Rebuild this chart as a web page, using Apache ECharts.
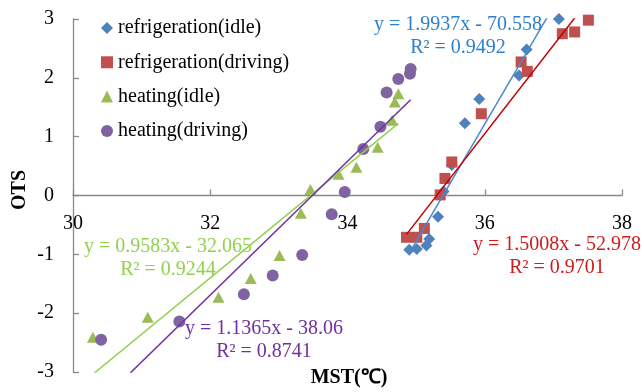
<!DOCTYPE html>
<html>
<head>
<meta charset="utf-8">
<script src="https://cdn.jsdelivr.net/npm/echarts@6/dist/echarts.min.js"></script>
<style>
  html, body { margin: 0; padding: 0; background: #fff; }
  #chart { width: 644px; height: 392px; }
</style>
</head>
<body>
<div id="chart"></div>
<script>
// Series names
const seriesNames = ['refrigeration(idle)', 'refrigeration(driving)', 'heating(idle)', 'heating(driving)'];

// MST (x) and OTS (y) observations for each condition
const refIdleMST = [34.90, 35.01, 35.15, 35.19, 35.32, 35.40, 35.52, 35.71, 35.92, 36.50, 36.61, 37.08];
const refIdleOTS = [-0.92, -0.91, -0.85, -0.74, -0.36, 0.07, 0.52, 1.23, 1.64, 2.04, 2.48, 3.00];

const refDrivMST = [34.86, 35.01, 35.12, 35.35, 35.42, 35.52, 35.95, 36.53, 36.62, 37.13, 37.31, 37.51];
const refDrivOTS = [-0.71, -0.71, -0.56, 0.01, 0.29, 0.57, 1.39, 2.27, 2.11, 2.75, 2.78, 2.98];

const heatIdleMST = [30.29, 31.09, 32.12, 32.59, 33.01, 33.32, 33.46, 33.87, 34.13, 34.44, 34.65, 34.69, 34.74];
const heatIdleOTS = [-2.41, -2.07, -1.73, -1.41, -1.02, -0.30, 0.10, 0.36, 0.48, 0.82, 1.28, 1.59, 1.73];

const heatDrivMST = [30.41, 31.55, 32.49, 32.91, 33.34, 33.77, 33.96, 34.23, 34.48, 34.57, 34.74, 34.91, 34.92];
const heatDrivOTS = [-2.45, -2.14, -1.68, -1.36, -1.01, -0.32, 0.06, 0.79, 1.17, 1.75, 1.98, 2.07, 2.15];

// Linear trend lines: y = slope * x + intercept
const slopes = [1.9937, 1.5008, 0.9583, 1.1365];
const intercepts = [-70.558, -52.978, -32.065, -38.06];
const rSquared = [0.9492, 0.9701, 0.9244, 0.8741];

// Axis ticks
const xTicks = [30, 32, 34, 36, 38];
const yTicks = [-3, -2, -1, 0, 1, 2, 3];

const xs = [refIdleMST, refDrivMST, heatIdleMST, heatDrivMST];
const ys = [refIdleOTS, refDrivOTS, heatIdleOTS, heatDrivOTS];

const markerColors = ['#4F81BD', '#C0504D', '#9BBB59', '#8064A2'];
const lineColors = ['#4A8AD0', '#C00000', '#92D050', '#7030A0'];
const textColors = ['#2F80CC', '#D01C1C', '#92D050', '#7030A0'];
const symbols = ['diamond', 'rect', 'triangle', 'circle'];
const symbolSizes = [[12, 12], [11, 11], [12, 11], [12, 12]];

const FONT = '"Liberation Serif", "Times New Roman", serif';
const AXIS_GREY = '#898989';

// Plot rectangle
const GRID = { left: 73, right: 22, top: 19, bottom: 20 };
const CHART_H = 392;
const yMin = yTicks[0];
const yMax = yTicks[yTicks.length - 1];
// Lift the MST axis from the bottom edge up to OTS = 0
const gridH = CHART_H - GRID.top - GRID.bottom;
const xAxisLift = -gridH * (0 - yMin) / (yMax - yMin);

const scatterSeries = seriesNames.map((name, i) => ({
  name: name,
  type: 'scatter',
  symbol: symbols[i],
  symbolSize: symbolSizes[i],
  itemStyle: { color: markerColors[i], opacity: 1 },
  z: 3,
  data: xs[i].map((x, k) => [x, ys[i][k]])
}));

// Each trend line spans its own series' MST range
const trendSeries = seriesNames.map((name, i) => {
  const x0 = Math.min(...xs[i]);
  const x1 = Math.max(...xs[i]);
  return {
    name: name + ' trend',
    type: 'line',
    showSymbol: false,
    symbol: 'none',
    clip: true,
    silent: true,
    lineStyle: { color: lineColors[i], width: 1.5 },
    z: 4,
    data: [[x0, slopes[i] * x0 + intercepts[i]], [x1, slopes[i] * x1 + intercepts[i]]]
  };
});

function equationText(i) {
  const b = intercepts[i];
  const sign = b < 0 ? '-' : '+';
  return 'y = ' + slopes[i] + 'x ' + sign + ' ' + Math.abs(b) + '\nR² = ' + rSquared[i];
}

// Top-centre anchor of each equation block
const eqPlacement = [
  { x: 458, y: 13.5 },
  { x: 557, y: 233.5 },
  { x: 168, y: 235.5 },
  { x: 264, y: 317 }
];

const eqGraphics = eqPlacement.map((p, i) => ({
  type: 'text',
  x: p.x,
  y: p.y,
  z: 10,
  style: {
    text: equationText(i),
    fill: textColors[i],
    font: '20px ' + FONT,
    align: 'center',
    verticalAlign: 'top',
    lineHeight: 23
  }
}));

const chart = echarts.init(document.getElementById('chart'), null, { renderer: 'canvas' });

chart.setOption({
  animation: false,
  backgroundColor: '#ffffff',
  grid: { left: GRID.left, right: GRID.right, top: GRID.top, bottom: GRID.bottom, containLabel: false },
  legend: {
    data: seriesNames,
    orient: 'vertical',
    left: 101,
    top: 18,
    padding: 0,
    itemWidth: 12,
    itemHeight: 12,
    itemGap: 14.3,
    textStyle: { fontFamily: FONT, fontSize: 20, color: '#000', lineHeight: 20 }
  },
  xAxis: {
    type: 'value',
    min: xTicks[0],
    max: xTicks[xTicks.length - 1],
    interval: 2,
    position: 'bottom',
    offset: xAxisLift,
    axisLine: { onZero: false, lineStyle: { color: AXIS_GREY, width: 1.3 } },
    axisTick: { show: true, inside: true, length: 6, lineStyle: { color: AXIS_GREY, width: 1.3 } },
    axisLabel: { color: '#000', fontFamily: FONT, fontSize: 20, margin: 18 },
    splitLine: { show: false }
  },
  yAxis: {
    type: 'value',
    min: yMin,
    max: yMax,
    interval: 1,
    axisLine: { show: true, onZero: false, lineStyle: { color: AXIS_GREY, width: 1.3 } },
    axisTick: { show: true, inside: true, length: 6, lineStyle: { color: AXIS_GREY, width: 1.3 } },
    axisLabel: { color: '#000', fontFamily: FONT, fontSize: 20, margin: 19 },
    splitLine: { show: false }
  },
  graphic: [
    {
      type: 'text',
      x: 20,
      y: 190,
      rotation: Math.PI / 2,
      z: 10,
      style: {
        text: 'OTS',
        fill: '#000',
        font: 'bold 20px ' + FONT,
        align: 'center',
        verticalAlign: 'middle'
      }
    },
    {
      type: 'text',
      x: 349,
      y: 378,
      z: 10,
      style: {
        text: 'MST(℃)',
        fill: '#000',
        font: 'bold 20px ' + FONT,
        align: 'center',
        verticalAlign: 'middle'
      }
    }
  ].concat(eqGraphics),
  series: scatterSeries.concat(trendSeries)
});
</script>
</body>
</html>
